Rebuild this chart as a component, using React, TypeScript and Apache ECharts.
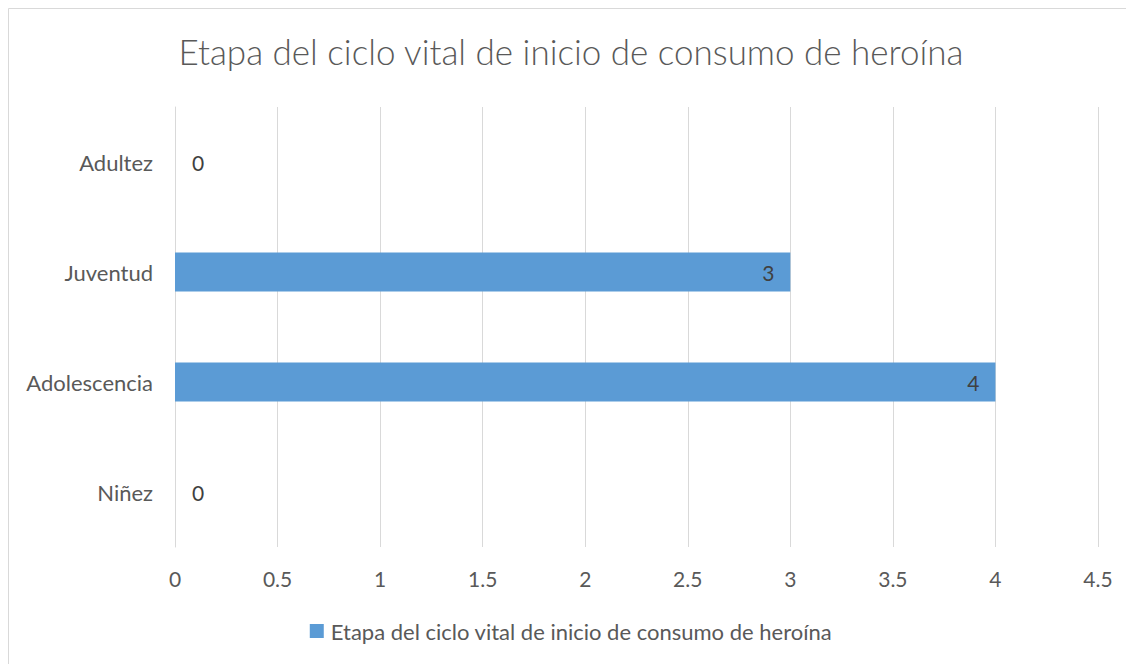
import React, { useEffect, useRef } from "react";
import * as echarts from "echarts";

const titleText = "Etapa del ciclo vital de inicio de consumo de heroína";
const seriesName = "Etapa del ciclo vital de inicio de consumo de heroína";
const categories = ["Niñez", "Adolescencia", "Juventud", "Adultez"];
const values = [0, 4, 3, 0];
const xMin = 0;
const xMax = 4.5;
const xInterval = 0.5;

const FONT = "Lato";
const TEXT = "#595959";

export default function App() {
  const ref = useRef<HTMLDivElement>(null);
  useEffect(() => {
    if (!ref.current) return;
    const chart = echarts.init(ref.current, undefined, { renderer: "svg" });
    chart.setOption({
      animation: false,
      backgroundColor: "#ffffff",
      textStyle: { fontFamily: FONT },
      graphic: [
        {
          type: "rect",
          shape: { x: 0.5, y: 0.5, width: 1300, height: 800 },
          style: { fill: "none", stroke: "#d9d9d9", lineWidth: 1 },
          silent: true,
        },
      ],
      title: {
        text: titleText,
        left: "center",
        top: 20,
        textStyle: { fontFamily: FONT, fontSize: 35, fontWeight: 300, color: TEXT },
      },
      legend: {
        bottom: 17,
        left: "center",
        itemWidth: 14,
        itemHeight: 14,
        itemGap: 10,
        icon: "rect",
        textStyle: { fontFamily: FONT, fontSize: 22, color: TEXT, padding: [0, 0, 0, 2] },
        data: [seriesName],
      },
      grid: { left: 167, right: 36, top: 99, bottom: 117, containLabel: false },
      xAxis: {
        type: "value",
        min: xMin,
        max: xMax,
        interval: xInterval,
        axisLine: { show: false },
        axisTick: { show: false },
        splitLine: { show: true, lineStyle: { color: "#d9d9d9", width: 1 } },
        axisLabel: { color: TEXT, fontFamily: FONT, fontSize: 21, margin: 21 },
      },
      yAxis: {
        type: "category",
        data: categories,
        axisLine: { show: true, lineStyle: { color: "#d9d9d9" } },
        axisTick: { show: false },
        axisLabel: { color: TEXT, fontFamily: FONT, fontSize: 22, margin: 22 },
      },
      series: [
        {
          name: seriesName,
          type: "bar",
          barWidth: 39,
          itemStyle: { color: "#5b9bd5" },
          label: {
            show: true,
            position: "insideRight",
            distance: 16,
            color: "#404040",
            fontFamily: FONT,
            fontSize: 21,
          },
          data: values.map((v) =>
            v === 0
              ? { value: v, label: { position: "right", distance: 17 } }
              : { value: v }
          ),
        },
      ],
    });
    return () => chart.dispose();
  }, []);
  return <div ref={ref} style={{ width: 1126, height: 656 }} />;
}
